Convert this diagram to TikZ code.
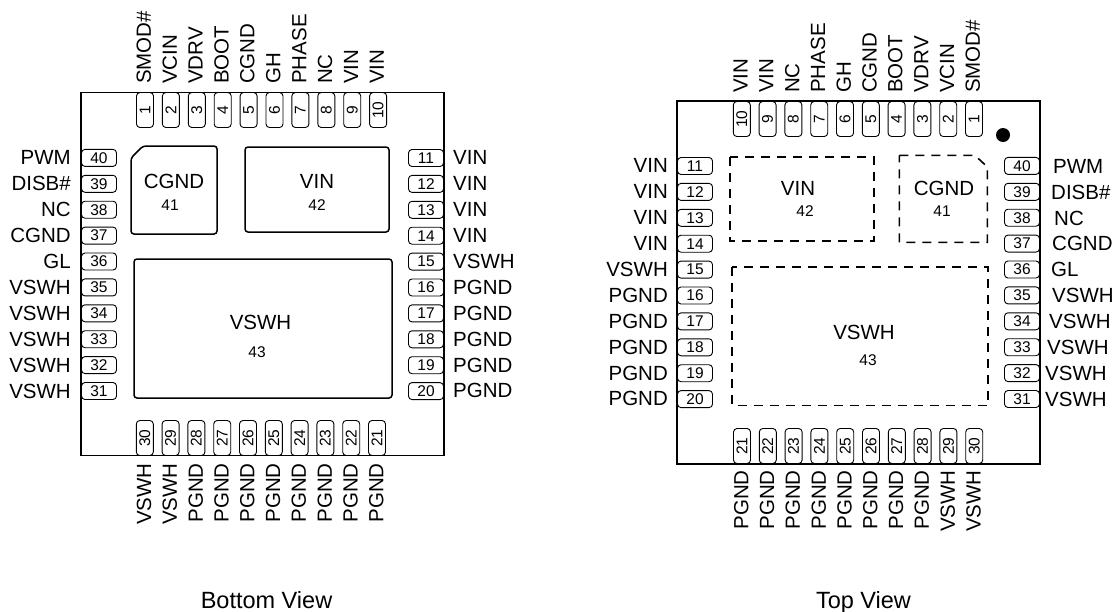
\documentclass[tikz,border=0pt]{standalone}
\usepackage{fontspec}
\setmainfont{Liberation Sans}
\tikzset{
  pkgbox/.style={rectangle, draw=black, line width=1.6pt, minimum width=363pt, minimum height=363pt, inner sep=0pt},
  pinbox/.style={rectangle, rounded corners=3.5pt, draw=black, line width=.9pt, minimum width=35pt, minimum height=17pt, inner sep=0pt, font=\fontsize{15.5}{16}\selectfont},
  pinlabel/.style={inner sep=0pt, text height=14.7pt, text depth=0pt, font=\fontsize{20.5}{22}\selectfont},
  padname/.style={inner sep=0pt, font=\fontsize{20.5}{22}\selectfont},
  padnum/.style={inner sep=0pt, font=\fontsize{15.5}{17}\selectfont},
  viewname/.style={inner sep=0pt, anchor=base, font=\fontsize{23.5}{25}\selectfont},
  padline/.style={draw=black, line width=1.5pt, rounded corners=3pt},
  paddash/.style={draw=black, line width=1.6pt, dash pattern=on 9pt off 7pt},
}
\begin{document}
\begin{tikzpicture}[x=1pt,y=-1pt]
  \useasboundingbox (0,0) rectangle (1115,611);
  % bottom view
  \node [pkgbox] (boxB) at (262.5,274) {};
  \foreach \n/\t [count=\k from 0] in {1/SMOD\#,2/VCIN,3/VDRV,4/BOOT,5/CGND,6/GH,7/PHASE,8/NC,9/VIN,10/VIN} {
    \node [pinbox, rotate=90] (pinB\n) at (145+25.9*\k,110) {\n};
    \node [pinlabel, rotate=90, anchor=west] (lblB\n) at (143.5+25.9*\k,84) {\t};
  }
  \foreach \n/\t [count=\k from 0] in {11/VIN,12/VIN,13/VIN,14/VIN,15/VSWH,16/PGND,17/PGND,18/PGND,19/PGND,20/PGND} {
    \node [pinbox] (pinB\n) at (426,158+25.9*\k) {\n};
    \node [pinlabel, anchor=west] (lblB\n) at (453,157.5+25.9*\k) {\t};
  }
  \foreach \n/\t [count=\k from 0] in {21/PGND,22/PGND,23/PGND,24/PGND,25/PGND,26/PGND,27/PGND,28/PGND,29/VSWH,30/VSWH} {
    \node [pinbox, rotate=90] (pinB\n) at (377-25.8*\k,438) {\n};
    \node [pinlabel, rotate=90, anchor=east] (lblB\n) at (376-25.8*\k,463) {\t};
  }
  \foreach \n/\t [count=\k from 0] in {31/VSWH,32/VSWH,33/VSWH,34/VSWH,35/VSWH,36/GL,37/CGND,38/NC,39/DISB\#,40/PWM} {
    \node [pinbox] (pinB\n) at (99,391-25.9*\k) {\n};
    \node [pinlabel, anchor=east] (lblB\n) at (71,391.5-26*\k) {\t};
  }
  \draw [padline] (143,146) -- (217,146) -- (217,234) -- (131,234) -- (131,158) -- cycle;
  \node [padname] (nameB41) at (174,181) {CGND};
  \node [padnum] (numB41) at (170,205) {41};
  \draw [padline] (245,147) rectangle (389,232);
  \node [padname] (nameB42) at (317,181) {VIN};
  \node [padnum] (numB42) at (317,205) {42};
  \draw [padline] (134,259) rectangle (392,398);
  \node [padname] (nameB43) at (260.5,322.5) {VSWH};
  \node [padnum] (numB43) at (257,352) {43};
  \node [viewname] (viewB) at (266.5,608) {Bottom View};
  % top view
  \node [pkgbox] (boxT) at (858.5,282.5) {};
  \foreach \n/\t [count=\k from 0] in {1/SMOD\#,2/VCIN,3/VDRV,4/BOOT,5/CGND,6/GH,7/PHASE,8/NC,9/VIN,10/VIN} {
    \node [pinbox, rotate=90] (pinT\n) at (974-25.8*\k,119) {\n};
    \node [pinlabel, rotate=90, anchor=west] (lblT\n) at (972.5-25.8*\k,93) {\t};
  }
  \foreach \n/\t [count=\k from 0] in {11/VIN,12/VIN,13/VIN,14/VIN,15/VSWH,16/PGND,17/PGND,18/PGND,19/PGND,20/PGND} {
    \node [pinbox] (pinT\n) at (695,166+25.9*\k) {\n};
    \node [pinlabel, anchor=east] (lblT\n) at (668,165.5+25.9*\k) {\t};
  }
  \foreach \n/\t [count=\k from 0] in {21/PGND,22/PGND,23/PGND,24/PGND,25/PGND,26/PGND,27/PGND,28/PGND,29/VSWH,30/VSWH} {
    \node [pinbox, rotate=90] (pinT\n) at (742+25.8*\k,446) {\n};
    \node [pinlabel, rotate=90, anchor=east] (lblT\n) at (741+25.8*\k,470) {\t};
  }
  \foreach \n/\t/\x [count=\k from 0] in {31/VSWH/1045,32/VSWH/1045,33/VSWH/1047,34/VSWH/1049,35/VSWH/1052,36/GL/1051,37/CGND/1052,38/NC/1054,39/DISB\#/1051,40/PWM/1053} {
    \node [pinbox] (pinT\n) at (1022,399-25.9*\k) {\n};
    \node [pinlabel, anchor=west] (lblT\n) at (\x,399-25.9*\k) {\t};
  }
  \draw [paddash] (899.4,155.4) -- (975,155.4) -- (987.4,167) -- (987.4,242.4) -- (899.4,242.4) -- cycle;
  \node [padname] (nameT41) at (944,188) {CGND};
  \node [padnum] (numT41) at (942,211) {41};
  \draw [paddash] (730,157) rectangle (874,241);
  \node [padname] (nameT42) at (798,188) {VIN};
  \node [padnum] (numT42) at (805,211) {42};
  \draw [paddash] (732,267) rectangle (988,405.5);
  \node [padname] (nameT43) at (864,332) {VSWH};
  \node [padnum] (numT43) at (868,360.5) {43};
  \fill (1003,135) circle (7);
  \node [viewname] (viewT) at (863.5,608) {Top View};
\end{tikzpicture}
\end{document}
